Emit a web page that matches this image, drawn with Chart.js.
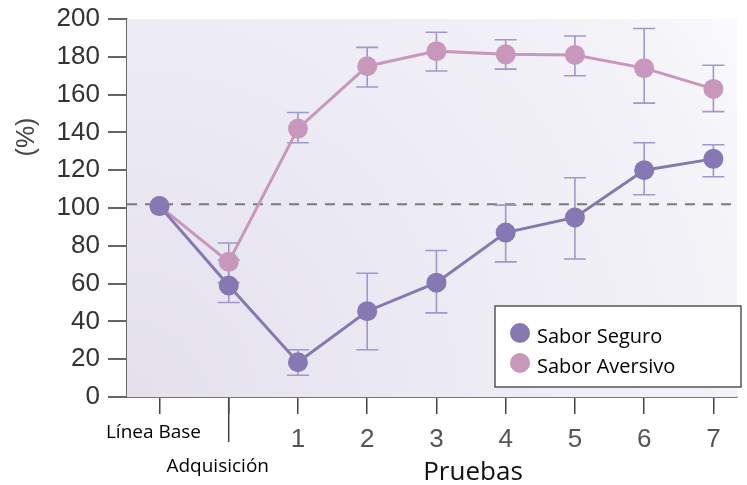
<!DOCTYPE html>
<html>
<head>
<meta charset="utf-8">
<script src="https://cdn.jsdelivr.net/npm/chart.js@4.4.1/dist/chart.umd.min.js"></script>
<style>
  html, body { margin: 0; padding: 0; background: #ffffff; }
  #wrap { width: 747px; height: 485px; position: relative; }
</style>
</head>
<body>
<div id="wrap"><canvas id="chart" width="747" height="485"></canvas></div>
<script>
// Categories along the x axis
const categories = ['Línea Base', 'Adquisición', '1', '2', '3', '4', '5', '6', '7'];
const xAxisTitle = 'Pruebas';
const yAxisTitle = '(%)';

// Y axis range and ticks
const yMin = 0;
const yMax = 200;
const yStep = 20;

// Baseline reference (dashed line)
const referenceLevel = 102;

// Series: Sabor Seguro
const seguroLabel = 'Sabor Seguro';
const seguroValues = [101, 59, 18.4, 45.4, 60.5, 87, 95, 120, 126];
const seguroHigh   = [null, 72.5, 25, 65.5, 77.5, 101.5, 116, 134.5, 133.5];
const seguroLow    = [null, 50, 11.5, 25, 44.5, 71.5, 73, 107, 116.5];

// Series: Sabor Aversivo
const aversivoLabel = 'Sabor Aversivo';
const aversivoValues = [101, 71.5, 142, 175, 183, 181.3, 181, 174, 163];
const aversivoHigh   = [null, 81.5, 150.5, 185, 193, 189, 191, 195, 175.5];
const aversivoLow    = [null, 60.5, 134.5, 164, 172.5, 173.5, 170, 155.5, 151];

const PURPLE = '#8679b3';
const PINK = '#c898bc';
const ERR = '#a097cc';

const toPoints = vals => vals.map((v, i) => ({ x: i, y: v }));

const errorSets = [
  { high: seguroHigh, low: seguroLow },
  { high: aversivoHigh, low: aversivoLow }
];

const decorPlugin = {
  id: 'decor',
  beforeDatasetsDraw(chart) {
    const { ctx, chartArea: a, scales: { x, y } } = chart;
    // background
    ctx.save();
    const g = ctx.createRadialGradient(a.left, a.bottom, 0, a.left, a.bottom, 730);
    g.addColorStop(0, '#e4e1ed');
    g.addColorStop(0.5, '#edebf4');
    g.addColorStop(0.85, '#f4f3f8');
    g.addColorStop(1, '#fbfafd');
    ctx.fillStyle = g;
    ctx.fillRect(a.left, a.top, a.right - a.left, a.bottom - a.top);

    // dashed reference line
    const ry = y.getPixelForValue(referenceLevel);
    ctx.strokeStyle = '#7a7a7a';
    ctx.lineWidth = 2;
    ctx.setLineDash([10, 8]);
    ctx.beginPath();
    ctx.moveTo(a.left, ry);
    ctx.lineTo(a.right, ry);
    ctx.stroke();
    ctx.setLineDash([]);

    // error bars
    ctx.strokeStyle = ERR;
    ctx.lineWidth = 1.6;
    const cap = 11;
    errorSets.forEach(set => {
      set.high.forEach((hi, i) => {
        const lo = set.low[i];
        if (hi == null || lo == null) return;
        const px = x.getPixelForValue(i);
        const yh = y.getPixelForValue(hi);
        const yl = y.getPixelForValue(lo);
        ctx.beginPath();
        ctx.moveTo(px, yh); ctx.lineTo(px, yl);
        ctx.moveTo(px - cap, yh); ctx.lineTo(px + cap, yh);
        ctx.moveTo(px - cap, yl); ctx.lineTo(px + cap, yl);
        ctx.stroke();
      });
    });
    ctx.restore();
  },
  afterDraw(chart) {
    const { ctx, chartArea: a, scales: { x, y } } = chart;
    ctx.save();
    // longer separator tick under "Adquisición"
    const ax = x.getPixelForValue(1);
    ctx.strokeStyle = '#444';
    ctx.lineWidth = 1.5;
    ctx.beginPath();
    ctx.moveTo(ax, a.bottom + 1);
    ctx.lineTo(ax, a.bottom + 45);
    ctx.stroke();

    // category labels
    ctx.textAlign = 'center';
    ctx.textBaseline = 'alphabetic';
    categories.forEach((c, i) => {
      const px = x.getPixelForValue(i);
      if (i === 0) {
        ctx.font = '19px "Open Sans"';
        ctx.fillStyle = '#000';
        ctx.fillText(c, px - 6, a.bottom + 41);
      } else if (i === 1) {
        ctx.font = '19px "Open Sans"';
        ctx.fillStyle = '#000';
        ctx.fillText(c, px - 11, a.bottom + 75);
      } else {
        ctx.font = '26px "Liberation Sans"';
        ctx.fillStyle = '#555';
        ctx.fillText(c, px, a.bottom + 50);
      }
    });

    // x axis title
    ctx.font = '26px "Open Sans"';
    ctx.fillStyle = '#111';
    ctx.fillText(xAxisTitle, 473, a.bottom + 83);

    // y axis title
    ctx.save();
    ctx.translate(27, 137);
    ctx.rotate(-Math.PI / 2);
    ctx.font = '25px "Liberation Sans"';
    ctx.fillStyle = '#444';
    ctx.textBaseline = 'middle';
    ctx.fillText(yAxisTitle, 0, 0);
    ctx.restore();

    // legend box
    const lx = 495, ly = 306, lw = 246, lh = 81;
    ctx.fillStyle = '#ffffff';
    ctx.fillRect(lx, ly, lw, lh);
    ctx.strokeStyle = '#555';
    ctx.lineWidth = 1.5;
    ctx.strokeRect(lx, ly, lw, lh);
    chart.data.datasets.forEach((ds, i) => {
      const cy = 333 + i * 30;
      ctx.beginPath();
      ctx.fillStyle = ds.backgroundColor;
      ctx.arc(520, cy, 10, 0, Math.PI * 2);
      ctx.fill();
      ctx.fillStyle = '#000';
      ctx.font = '20px "Open Sans"';
      ctx.textAlign = 'left';
      ctx.fillText(ds.label, 537, cy + 10);
    });
    ctx.restore();
  }
};

new Chart(document.getElementById('chart'), {
  type: 'line',
  data: {
    datasets: [
      {
        label: seguroLabel,
        data: toPoints(seguroValues),
        borderColor: PURPLE,
        backgroundColor: PURPLE,
        pointBackgroundColor: PURPLE,
        pointBorderWidth: 0,
        pointRadius: 10,
        borderWidth: 3,
        tension: 0
      },
      {
        label: aversivoLabel,
        data: toPoints(aversivoValues),
        borderColor: PINK,
        backgroundColor: PINK,
        pointBackgroundColor: PINK,
        pointBorderWidth: 0,
        pointRadius: 10,
        borderWidth: 3,
        tension: 0
      }
    ]
  },
  options: {
    responsive: false,
    animation: false,
    layout: { padding: { top: 19, right: 0, left: 0, bottom: 0 } },
    plugins: { legend: { display: false }, tooltip: { enabled: false } },
    scales: {
      x: {
        type: 'linear',
        min: -0.469,
        max: 8.341,
        afterBuildTicks: s => { s.ticks = categories.map((_, i) => ({ value: i })); },
        afterFit: s => { s.height = 88; s.paddingLeft = 0; s.paddingRight = 0; },
        grid: { drawOnChartArea: false, tickLength: 17, color: '#444', lineWidth: 1.5 },
        border: { color: '#777', width: 2 },
        ticks: { display: false }
      },
      y: {
        min: yMin,
        max: yMax,
        afterFit: s => { s.width = 127; s.paddingTop = 0; s.paddingBottom = 0; },
        grid: { drawOnChartArea: false, tickLength: 19, color: '#666', lineWidth: 2 },
        border: { color: '#666', width: 1.5 },
        ticks: {
          stepSize: yStep,
          padding: 8,
          color: '#333',
          font: { family: '"Liberation Sans"', size: 26 }
        }
      }
    }
  },
  plugins: [decorPlugin]
});
</script>
</body>
</html>
